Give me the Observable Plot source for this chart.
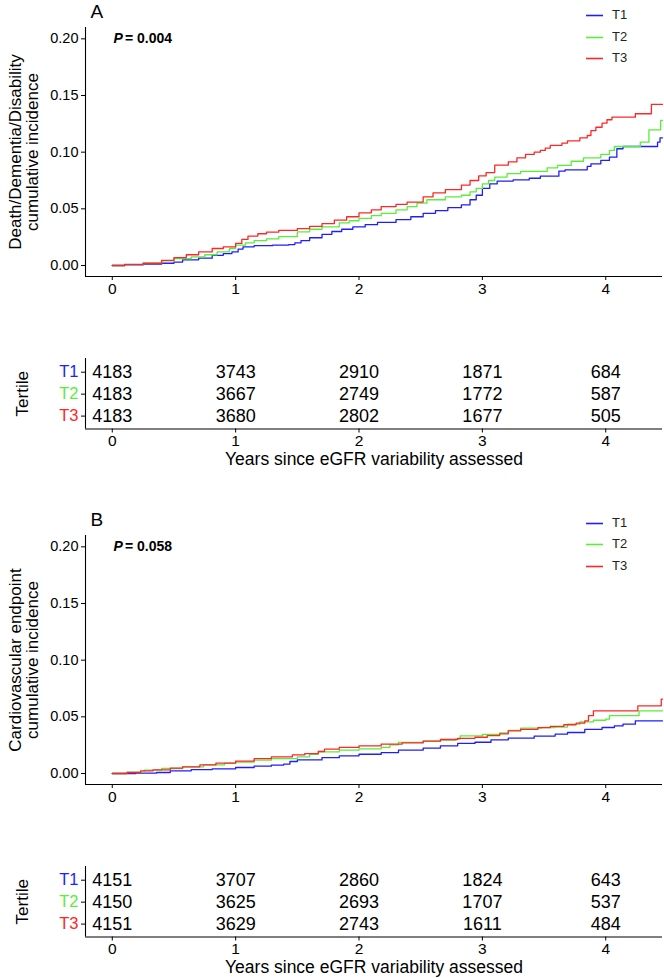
<!DOCTYPE html>
<html><head><meta charset="utf-8">
<script src="https://cdn.jsdelivr.net/npm/d3@7"></script>
<script src="https://cdn.jsdelivr.net/npm/@observablehq/plot@0.6"></script>
<style>
body{margin:0;background:#fff;font-family:"Liberation Sans",Arial,sans-serif;}
#root{position:relative;width:664px;height:978px;overflow:hidden;background:#fff;}
.abs{position:absolute;}
.leg{position:absolute;left:586px;font-size:13px;color:#222;height:14px;line-height:14px;white-space:nowrap;display:flex;align-items:center;}
.leg svg{margin-right:9px;display:block;}
</style></head><body><div id="root"></div>
<script>
// ---------- data ----------
const tertiles = ["T1", "T2", "T3"];
const colors = ["#1e1eff", "#58ee3a", "#ff2626"];
const xTicks = [0, 1, 2, 3, 4];
const yTicks = [0, 0.05, 0.10, 0.15, 0.20];
const countTimes = [0, 1, 2, 3, 4];
const xTitle = "Years since eGFR variability assessed";
const tableTitle = "Tertile";

// Panel A: Death/Dementia/Disability
const A_T1_t = [0,0.1,0.25,0.4,0.5,0.57,0.7,0.81,0.9,0.97,1.02,1.06,1.15,1.3,1.43,1.48,1.53,1.6,1.7,1.78,1.86,1.95,2.05,2.15,2.3,2.42,2.52,2.62,2.72,2.83,2.9,2.95,3.0,3.06,3.12,3.25,3.38,3.47,3.62,3.67,3.85,3.88,3.96,4.03,4.09,4.14,4.42,4.44,4.46];
const A_T1_v = [0,0.0005,0.0012,0.002,0.003,0.005,0.0065,0.009,0.0105,0.012,0.0145,0.0165,0.0175,0.018,0.0185,0.02,0.022,0.0245,0.0275,0.03,0.032,0.034,0.036,0.038,0.0405,0.043,0.046,0.0485,0.051,0.0535,0.058,0.062,0.068,0.072,0.0745,0.0755,0.077,0.0788,0.0832,0.0844,0.0874,0.0897,0.0927,0.0956,0.103,0.105,0.1088,0.1127,0.1127];
const A_T2_t = [0,0.1,0.25,0.4,0.5,0.64,0.75,0.85,0.95,1.0,1.08,1.15,1.25,1.35,1.5,1.6,1.7,1.84,1.92,2.0,2.1,2.18,2.3,2.39,2.47,2.55,2.7,2.83,2.9,2.95,3.0,3.05,3.1,3.2,3.31,3.525,3.61,3.72,3.82,3.96,4.03,4.07,4.28,4.35,4.445,4.46];
const A_T2_v = [0,0.0008,0.002,0.004,0.006,0.0076,0.0095,0.012,0.015,0.018,0.02,0.022,0.0235,0.0255,0.0297,0.032,0.034,0.0376,0.0395,0.0415,0.044,0.046,0.049,0.052,0.055,0.058,0.0606,0.062,0.065,0.068,0.072,0.075,0.078,0.081,0.083,0.0862,0.0883,0.092,0.095,0.098,0.1015,0.105,0.1088,0.1197,0.128,0.128];
const A_T3_t = [0,0.1,0.25,0.4,0.5,0.6,0.7,0.81,0.9,1.0,1.05,1.1,1.18,1.25,1.35,1.5,1.6,1.7,1.8,1.9,2.0,2.1,2.18,2.3,2.39,2.52,2.6,2.7,2.83,2.9,2.97,3.03,3.1,3.21,3.28,3.35,3.42,3.47,3.51,3.55,3.645,3.69,3.79,3.85,3.88,3.92,3.97,4.01,4.05,4.24,4.37,4.46];
const A_T3_v = [0,0.001,0.002,0.0045,0.007,0.0095,0.012,0.015,0.0165,0.0195,0.023,0.026,0.028,0.0295,0.031,0.0326,0.0345,0.037,0.04,0.043,0.0465,0.049,0.052,0.054,0.056,0.0606,0.064,0.067,0.071,0.075,0.079,0.082,0.0885,0.0915,0.095,0.098,0.1,0.1015,0.1035,0.106,0.108,0.11,0.1127,0.1147,0.119,0.122,0.1256,0.1286,0.1309,0.1339,0.1421,0.1421];
const A_counts_T1 = [4183, 3743, 2910, 1871, 684];
const A_counts_T2 = [4183, 3667, 2749, 1772, 587];
const A_counts_T3 = [4183, 3680, 2802, 1677, 505];
const A_yTitle = "Death/Dementia/Disability\ncumulative incidence";
const A_p = "0.004";

// Panel B: Cardiovascular endpoint
const B_T1_t = [0,0.19,0.36,0.47,0.64,0.81,1.0,1.15,1.29,1.39,1.44,1.5,1.7,1.84,2.0,2.18,2.32,2.52,2.66,2.8,2.94,3.07,3.21,3.42,3.59,3.69,3.83,3.97,4.07,4.14,4.24,4.46];
const B_T1_v = [0,0.0003,0.0009,0.0024,0.0035,0.0041,0.0053,0.0065,0.0074,0.0082,0.0106,0.012,0.014,0.0156,0.017,0.0185,0.0206,0.0224,0.0244,0.0265,0.0276,0.0297,0.0312,0.033,0.0347,0.0362,0.039,0.0406,0.042,0.0435,0.0465,0.0465];
const B_T2_t = [0,0.12,0.26,0.4,0.57,0.74,0.91,1.0,1.15,1.29,1.5,1.6,1.67,1.84,2.0,2.18,2.25,2.32,2.52,2.66,2.78,2.82,3.0,3.14,3.21,3.31,3.48,3.59,3.69,3.79,3.9,4.0,4.03,4.27,4.46];
const B_T2_v = [0,0.0012,0.003,0.0044,0.0059,0.0076,0.0091,0.01,0.0118,0.0132,0.0147,0.017,0.019,0.0206,0.0218,0.023,0.0253,0.0274,0.0285,0.0294,0.0303,0.0332,0.0344,0.0359,0.038,0.04,0.0406,0.041,0.0435,0.0456,0.047,0.048,0.051,0.0553,0.0553];
const B_T3_t = [0,0.12,0.23,0.33,0.47,0.57,0.71,0.84,1.0,1.15,1.29,1.46,1.56,1.67,1.72,1.84,2.0,2.18,2.35,2.52,2.66,2.8,2.94,3.04,3.14,3.21,3.31,3.45,3.55,3.66,3.76,3.83,3.86,3.9,4.26,4.45,4.46];
const B_T3_v = [0,0.0009,0.0024,0.0032,0.0047,0.0059,0.0076,0.0091,0.011,0.0132,0.0147,0.0165,0.0176,0.0194,0.0215,0.023,0.0244,0.026,0.027,0.0285,0.03,0.031,0.032,0.0335,0.035,0.0376,0.039,0.0405,0.0415,0.043,0.0445,0.0465,0.051,0.0553,0.0597,0.0656,0.0656];
const B_counts_T1 = [4151, 3707, 2860, 1824, 643];
const B_counts_T2 = [4150, 3625, 2693, 1707, 537];
const B_counts_T3 = [4151, 3629, 2743, 1611, 484];
const B_yTitle = "Cardiovascular endpoint\ncumulative incidence";
const B_p = "0.058";

// ---------- scales ----------
const xDomain = [-0.217, 4.46];
const yDomain = [-0.0097, 0.21];
const rowDomain = [3.588, 0.376];
const font = "'Liberation Sans', Arial, sans-serif";

function rows(g, ts, vs) { return ts.map((t, i) => ({g, t, v: vs[i]})); }

function curvePlot(series, yTitle, pVal, panelLabel) {
  return Plot.plot({
    width: 664, height: 300,
    marginLeft: 85, marginRight: 2, marginTop: 27, marginBottom: 24,
    style: {fontFamily: font, fontSize: "14.5px", color: "black", background: "transparent", overflow: "visible"},
    x: {domain: xDomain},
    y: {domain: yDomain},
    color: {domain: tertiles, range: colors},
    marks: [
      Plot.line(series, {x: "t", y: "v", z: "g", stroke: "g", curve: "step-after", strokeWidth: 1.3}),
      Plot.ruleX([xDomain[0]], {stroke: "black", strokeWidth: 1.1}),
      Plot.ruleY([yDomain[0]], {stroke: "black", strokeWidth: 1.1}),
      Plot.axisX({ticks: xTicks, tickSize: 4, tickPadding: 2, label: null, tickFormat: d => String(d), fontSize: 15.5}),
      Plot.axisY({ticks: yTicks, tickSize: 4, tickPadding: 3, label: null, tickFormat: d3.format(".2f")}),
      Plot.text([panelLabel], {frameAnchor: "top-left", dx: 5, dy: -15.5, textAnchor: "start", lineAnchor: "middle", fontSize: 19, fill: "black"}),
      Plot.text(["P"], {frameAnchor: "top-left", dx: 28, dy: 11.5, textAnchor: "start", lineAnchor: "middle", fontSize: 14, fontWeight: "bold", fontStyle: "italic", fill: "black"}),
      Plot.text([pVal], {frameAnchor: "top-left", dx: 39.5, dy: 11.5, textAnchor: "start", lineAnchor: "middle", fontSize: 14, fontWeight: "bold", fill: "black", text: d => "= " + d}),
      Plot.text([yTitle], {frameAnchor: "left", dx: -61.5, rotate: -90, textAnchor: "middle", lineAnchor: "middle", fontSize: 17, lineHeight: 1.03, fill: "black"})
    ]
  });
}

function tablePlot(c1, c2, c3) {
  const counts = [c1, c2, c3];
  const data = [];
  counts.forEach((arr, r) => arr.forEach((n, j) => data.push({row: r + 1, t: countTimes[j], n})));
  return Plot.plot({
    width: 664, height: 135,
    marginLeft: 85, marginRight: 2, marginTop: 18, marginBottom: 46.5,
    style: {fontFamily: font, fontSize: "15.5px", color: "black", background: "transparent", overflow: "visible"},
    x: {domain: xDomain},
    y: {domain: rowDomain},
    color: {domain: tertiles, range: colors},
    marks: [
      Plot.ruleX([xDomain[0]], {stroke: "black", strokeWidth: 1.1}),
      Plot.ruleY([rowDomain[0]], {stroke: "black", strokeWidth: 1.1}),
      Plot.axisX({ticks: xTicks, tickSize: 4, tickPadding: 2, label: null, tickFormat: d => String(d)}),
      Plot.axisY({ticks: [1, 2, 3], tickSize: 4, label: null, tickFormat: () => ""}),
      Plot.text(data, {x: "t", y: "row", text: d => String(d.n), textAnchor: "middle", lineAnchor: "middle", fontSize: 18, fill: "black"}),
      Plot.text(tertiles, {x: () => xDomain[0], y: (d, i) => i + 1, dx: -7, text: d => d, textAnchor: "end", lineAnchor: "middle", fontSize: 16.5, fill: d => d}),
      Plot.text([tableTitle], {frameAnchor: "left", dx: -63.3, rotate: -90, textAnchor: "middle", lineAnchor: "middle", fontSize: 17, fill: "black"}),
      Plot.text([xTitle], {frameAnchor: "bottom", dy: 30.5, textAnchor: "middle", lineAnchor: "middle", fontSize: 17.5, fill: "black"})
    ]
  });
}

function legend(container, top) {
  tertiles.forEach((g, i) => {
    const d = document.createElement("div");
    d.className = "leg";
    d.style.top = Math.round(top + [8, 29.7, 51.3][i]) + "px";
    d.innerHTML = `<svg width="17" height="14"><line x1="0" x2="17" y1="7.5" y2="7.5" stroke="${colors[i]}" stroke-width="1.6"/></svg><span>${g}</span>`;
    container.appendChild(d);
  });
}

const root = document.getElementById("root");
function place(node, top) {
  const w = document.createElement("div");
  w.className = "abs";
  w.style.left = "0px";
  w.style.top = top + "px";
  w.appendChild(node);
  root.appendChild(w);
}

const seriesA = [...rows("T1", A_T1_t, A_T1_v), ...rows("T2", A_T2_t, A_T2_v), ...rows("T3", A_T3_t, A_T3_v)];
const seriesB = [...rows("T1", B_T1_t, B_T1_v), ...rows("T2", B_T2_t, B_T2_v), ...rows("T3", B_T3_t, B_T3_v)];

const offB = 507.7;
place(curvePlot(seriesA, A_yTitle, A_p, "A"), 0);
place(tablePlot(A_counts_T1, A_counts_T2, A_counts_T3), 340);
place(curvePlot(seriesB, B_yTitle, B_p, "B"), offB);
place(tablePlot(B_counts_T1, B_counts_T2, B_counts_T3), 340 + offB);
legend(root, 0);
legend(root, offB);
</script></body></html>
